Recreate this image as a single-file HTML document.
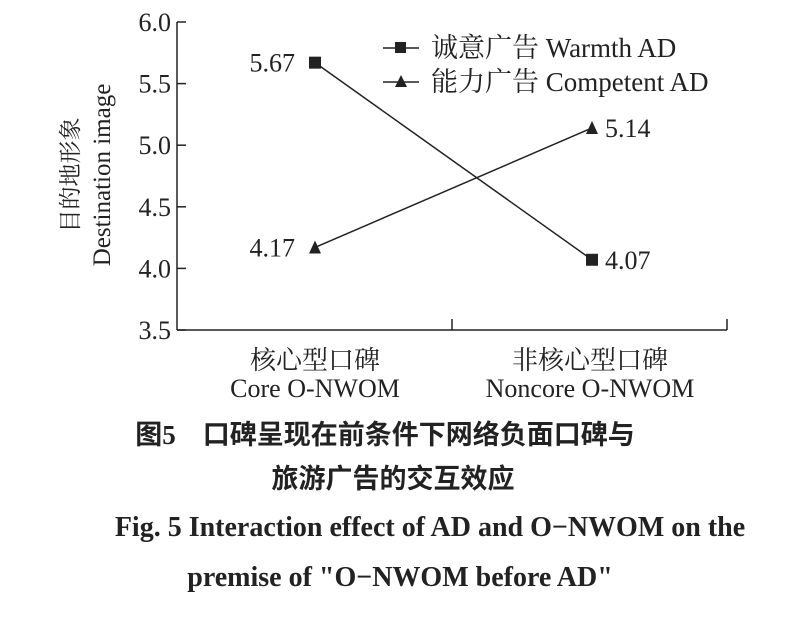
<!DOCTYPE html>
<html><head><meta charset="utf-8"><style>
body{margin:0;background:#fff;width:800px;height:619px;overflow:hidden}
svg text{font-family:"Liberation Serif","Noto Serif CJK SC",serif;fill:#222}
.cap{font-family:"Liberation Serif","Noto Sans CJK SC",sans-serif;font-weight:bold}
</style></head><body>
<svg width="800" height="619">
<g id="axes"></g><g id="marks"></g>
<g>
<line x1="383" y1="48" x2="419" y2="48" stroke="#222" stroke-width="1.5"/>
<rect x="395" y="42" width="11" height="11" fill="#222"/>
<text x="431" y="57" font-size="27">诚意广告 Warmth AD</text>
<line x1="383" y1="82" x2="419" y2="82" stroke="#222" stroke-width="1.5"/>
<polygon points="401,75 407,87 395,87" fill="#222"/>
<text x="431" y="91" font-size="27">能力广告 Competent AD</text>
</g>
<text transform="translate(78,175) rotate(-90)" text-anchor="middle" font-size="23" font-family="Noto Serif CJK SC">目的地形象</text>
<text transform="translate(110,175) rotate(-90)" text-anchor="middle" font-size="25">Destination image</text>
<g class="cap" text-anchor="middle">
<text x="385" y="444" class="cap" font-size="27">图5　口碑呈现在前条件下网络负面口碑与</text>
<text x="393" y="488" class="cap" font-size="27">旅游广告的交互效应</text>
<text x="430" y="536" class="cap" font-family="Liberation Serif" font-size="28">Fig. 5   Interaction effect of AD and O−NWOM on the</text>
<text x="400" y="586" class="cap" font-family="Liberation Serif" font-size="28">premise of "O−NWOM before AD"</text>
</g>
</svg>
<script>
const categories=["核心型口碑|Core O-NWOM","非核心型口碑|Noncore O-NWOM"];
const warmth=[5.67,4.07];
const competent=[4.17,5.14];
const yTicks=[3.5,4.0,4.5,5.0,5.5,6.0];
const NS="http://www.w3.org/2000/svg";
const X0=177,X1=727,Y0=330,Y1=22;
const y=v=>Y0-(v-3.5)/(6.0-3.5)*(Y0-Y1);
const x=i=>[315,592][i];
function mk(t,a,p){const e=document.createElementNS(NS,t);for(const k in a)e.setAttribute(k,a[k]);p.appendChild(e);return e;}
const ax=document.getElementById('axes'),mk_=document.getElementById('marks');
let e=mk('line',{x1:X0,y1:Y1,x2:X0,y2:Y0,stroke:'#222','stroke-width':1.5},ax);


e=mk('line',{x1:X0,y1:Y0,x2:X1,y2:Y0,stroke:'#222','stroke-width':1.5},ax);


[452,X1].forEach(tx=>{mk('line',{x1:tx,y1:Y0,x2:tx,y2:Y0-11,stroke:'#222','stroke-width':1.5},ax);});
yTicks.forEach(v=>{
 mk('line',{x1:X0,y1:y(v),x2:X0+9,y2:y(v),stroke:'#222','stroke-width':1.5},ax);
 const t=mk('text',{x:X0-6,y:y(v)+9,'text-anchor':'end','font-size':26},ax);t.textContent=v.toFixed(1);
 
 
});
categories.forEach((c,i)=>{
 const [cn,en]=c.split('|');
 const cx=i==0?315:590;
 let t=mk('text',{x:cx,y:369,'text-anchor':'middle','font-size':26,'font-family':'Noto Serif CJK SC'},ax);t.textContent=cn;
 
 
 t=mk('text',{x:cx,y:397,'text-anchor':'middle','font-size':26},ax);t.textContent=en;
 
 
});
function series(vals,shape,name){
 const l=mk('line',{x1:x(0),y1:y(vals[0]),x2:x(1),y2:y(vals[1]),stroke:'#222','stroke-width':1.5},mk_);
 
 
 vals.forEach((v,i)=>{
  let m;
  if(shape=='sq')m=mk('rect',{x:x(i)-6,y:y(v)-6,width:12,height:12,fill:'#222'},mk_);
  else m=mk('polygon',{points:`${x(i)},${y(v)-7} ${x(i)+6},${y(v)+6} ${x(i)-6},${y(v)+6}`,fill:'#222'},mk_);
  
  
  const t=mk('text',{x:i==0?x(i)-20:x(i)+13,y:y(v)+9,'text-anchor':i==0?'end':'start','font-size':26},mk_);
  t.textContent=v.toFixed(2);
  
  
 });
}
series(warmth,'sq','warmth');
series(competent,'tri','competent');
</script>
</body></html>
